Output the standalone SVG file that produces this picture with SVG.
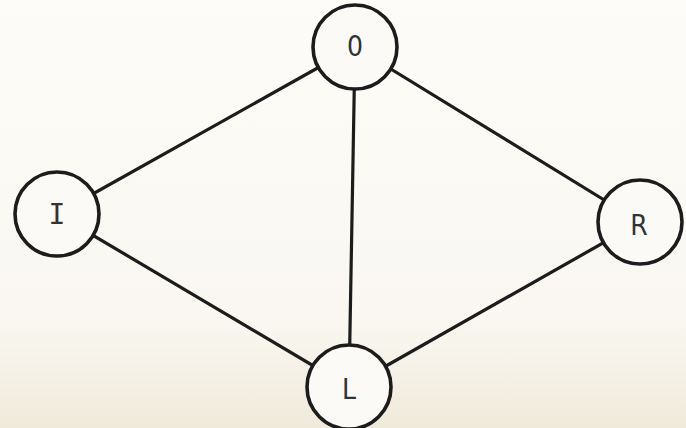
<svg xmlns="http://www.w3.org/2000/svg" width="686" height="428" viewBox="0 0 686 428">
<defs>
<linearGradient id="bg" x1="0" y1="0" x2="0" y2="1">
<stop offset="0" stop-color="#fdfcf9"/>
<stop offset="0.75" stop-color="#f9f7f0"/>
<stop offset="1" stop-color="#f0eadb"/>
</linearGradient>
<style>
.edge{stroke:#1c1c1c;stroke-width:3.2;fill:none;stroke-linecap:round}
.node circle{fill:#fbfaf6;stroke:#1c1c1c;stroke-width:3.6}
.node text{font-family:"DejaVu Sans Condensed","DejaVu Sans",sans-serif;font-stretch:condensed;font-size:28px;fill:#333;text-anchor:middle;dominant-baseline:central}
.node text.mono{font-family:"DejaVu Sans Mono",monospace;font-stretch:normal}
</style>
</defs>
<rect width="686" height="428" fill="url(#bg)"/>
<g id="connectors">
<line class="edge" x1="355" y1="47" x2="57" y2="214"/>
<line class="edge" x1="355" y1="47" x2="349" y2="387"/>
<line class="edge" x1="355" y1="47" x2="640" y2="222"/>
<line class="edge" x1="57" y1="214" x2="349" y2="387"/>
<line class="edge" x1="640" y1="222" x2="349" y2="387"/>
</g>
<g id="node-O" class="node"><circle cx="355" cy="47" r="42"/><text x="355" y="46">0</text></g>
<g id="node-I" class="node"><circle cx="57" cy="214" r="42"/><text class="mono" x="57" y="214">I</text></g>
<g id="node-R" class="node"><circle cx="640" cy="222" r="42"/><text x="639" y="225">R</text></g>
<g id="node-L" class="node"><circle cx="349" cy="387" r="42"/><text x="349" y="389">L</text></g>
</svg>
